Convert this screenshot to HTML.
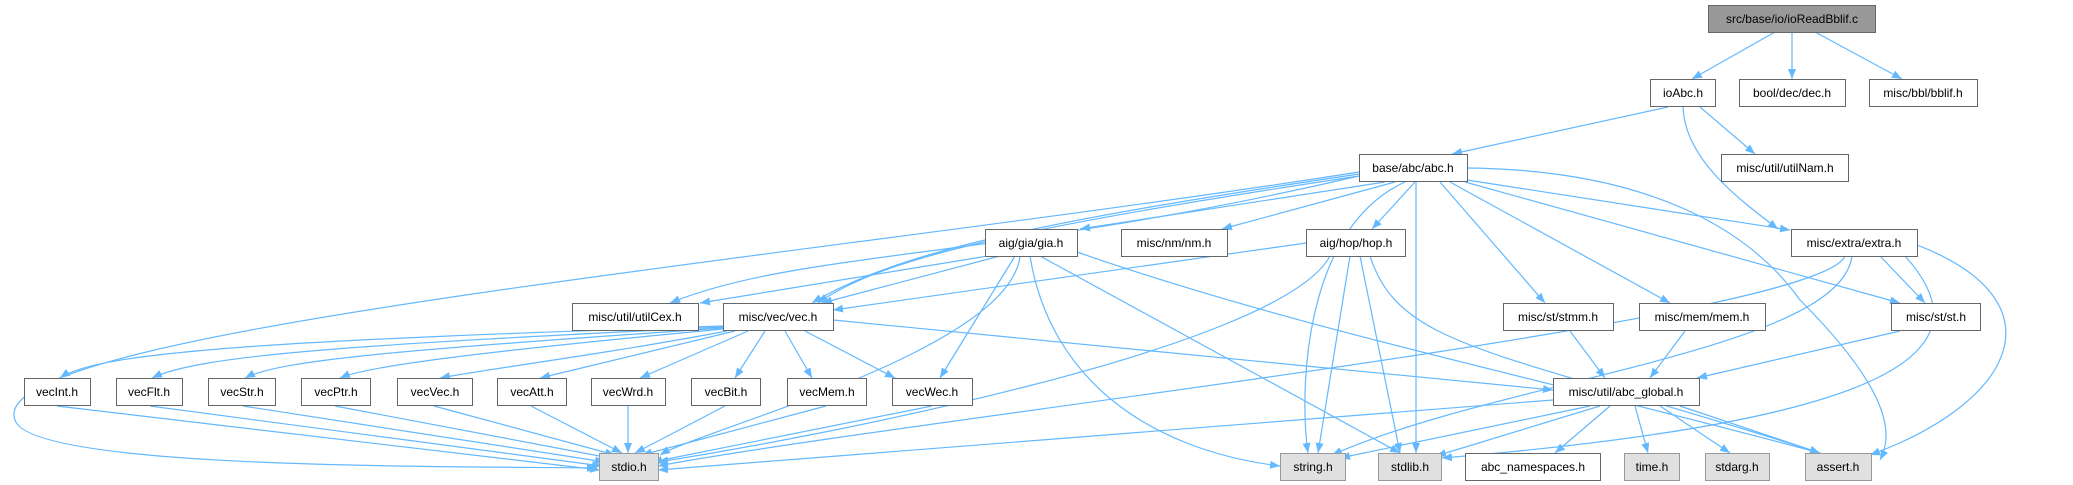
<!DOCTYPE html>
<html><head><meta charset="utf-8"><style>
html,body{margin:0;padding:0;background:#fff;}
svg{display:block;}
text{font-family:"Liberation Sans",Arial,sans-serif;font-size:12px;fill:#000;}
.n{fill:#fff;stroke:#666;stroke-width:1;}
.g{fill:#e0e0e0;stroke:#999;stroke-width:1;}
.r{fill:#999;stroke:#666;stroke-width:1;}
.e{fill:none;stroke:#63b8ff;stroke-width:1.2;marker-end:url(#a);}
</style></head><body>
<svg width="2073" height="485" viewBox="0 0 2073 485" xmlns="http://www.w3.org/2000/svg">
<defs><marker id="a" markerWidth="10" markerHeight="8" refX="10" refY="4" orient="auto" markerUnits="userSpaceOnUse"><path d="M0,0 L10,4 L0,8 z" fill="#63b8ff"/></marker></defs>
<g>
<path class="e" d="M1775,32 L1692,79"/>
<path class="e" d="M1792,32 L1792,79"/>
<path class="e" d="M1815,32 L1902,79"/>
<path class="e" d="M1668,107 L1452,154"/>
<path class="e" d="M1700,107 L1755,154"/>
<path class="e" d="M1683,107 C1685,160 1740,200 1778,229"/>
<path class="e" d="M1385,182 L1080,229"/>
<path class="e" d="M1395,182 L1222,229"/>
<path class="e" d="M1415,182 L1372,229"/>
<path class="e" d="M1405,182 C1300,230 1300,400 1308,453"/>
<path class="e" d="M1416,182 L1416,453"/>
<path class="e" d="M1440,182 L1545,303"/>
<path class="e" d="M1450,182 L1670,303"/>
<path class="e" d="M1465,182 L1900,303"/>
<path class="e" d="M1467,180 L1790,230"/>
<path class="e" d="M1467,168 C1650,170 1750,230 1800,300 C1900,400 1890,440 1880,460"/>
<path class="e" d="M1359,176 C1000,260 800,250 670,303"/>
<path class="e" d="M1359,176 C1000,230 880,260 818,303"/>
<path class="e" d="M1359,174 C1050,220 900,250 812,303"/>
<path class="e" d="M1359,172 C800,260 -20,330 15,420 C30,470 450,466 597,468"/>
<path class="e" d="M988,256 L700,303"/>
<path class="e" d="M1000,256 L822,303"/>
<path class="e" d="M1015,256 L940,378"/>
<path class="e" d="M1020,256 C1010,350 700,430 660,455"/>
<path class="e" d="M1030,256 C1050,380 1150,450 1280,466"/>
<path class="e" d="M1040,256 L1400,453"/>
<path class="e" d="M1077,252 C1300,330 1550,380 1820,453"/>
<path class="e" d="M1306,243 L833,310"/>
<path class="e" d="M1330,256 C1280,350 800,440 658,462"/>
<path class="e" d="M1350,256 L1318,453"/>
<path class="e" d="M1360,256 L1400,453"/>
<path class="e" d="M1370,256 C1400,350 1500,350 1820,453"/>
<path class="e" d="M1880,256 L1925,303"/>
<path class="e" d="M1845,256 C1820,320 900,420 658,466"/>
<path class="e" d="M1852,256 C1840,350 1500,380 1332,455"/>
<path class="e" d="M1905,256 C1990,350 1900,420 1442,458"/>
<path class="e" d="M1917,245 C2060,300 2020,400 1870,455"/>
<path class="e" d="M723,326 C300,340 100,350 60,378"/>
<path class="e" d="M723,327 C350,345 200,355 152,378"/>
<path class="e" d="M723,328 C400,350 280,360 245,378"/>
<path class="e" d="M723,329 C500,350 370,365 340,378"/>
<path class="e" d="M727,331 C600,355 480,370 440,378"/>
<path class="e" d="M735,331 L540,378"/>
<path class="e" d="M748,331 L640,378"/>
<path class="e" d="M765,331 L735,378"/>
<path class="e" d="M785,331 L812,378"/>
<path class="e" d="M805,331 L895,378"/>
<path class="e" d="M833,320 L1553,390"/>
<path class="e" d="M1570,331 L1605,378"/>
<path class="e" d="M1685,331 L1650,378"/>
<path class="e" d="M1900,331 L1697,378"/>
<path class="e" d="M57,406 L600,470"/>
<path class="e" d="M150,406 L602,466"/>
<path class="e" d="M243,406 L605,462"/>
<path class="e" d="M335,406 L610,458"/>
<path class="e" d="M434,406 L615,455"/>
<path class="e" d="M531,406 L622,453"/>
<path class="e" d="M628,406 L628,453"/>
<path class="e" d="M725,406 L635,453"/>
<path class="e" d="M826,406 L642,455"/>
<path class="e" d="M932,406 L652,462"/>
<path class="e" d="M1553,400 L658,470"/>
<path class="e" d="M1590,406 L1340,458"/>
<path class="e" d="M1600,406 L1436,456"/>
<path class="e" d="M1610,406 L1555,453"/>
<path class="e" d="M1635,406 L1648,453"/>
<path class="e" d="M1660,406 L1730,453"/>
<path class="e" d="M1680,406 L1820,453"/>
</g>
<g>
<rect class="r" x="1708.5" y="5.5" width="167" height="27"/><text x="1792" y="23" text-anchor="middle">src/base/io/ioReadBblif.c</text>
<rect class="n" x="1650.5" y="79.5" width="65" height="27"/><text x="1683" y="97" text-anchor="middle">ioAbc.h</text>
<rect class="n" x="1739.5" y="79.5" width="106" height="27"/><text x="1792" y="97" text-anchor="middle">bool/dec/dec.h</text>
<rect class="n" x="1869.5" y="79.5" width="108" height="27"/><text x="1923" y="97" text-anchor="middle">misc/bbl/bblif.h</text>
<rect class="n" x="1359.5" y="154.5" width="108" height="27"/><text x="1413" y="172" text-anchor="middle">base/abc/abc.h</text>
<rect class="n" x="1721.5" y="154.5" width="127" height="27"/><text x="1785" y="172" text-anchor="middle">misc/util/utilNam.h</text>
<rect class="n" x="985.5" y="229.5" width="92" height="27"/><text x="1031" y="247" text-anchor="middle">aig/gia/gia.h</text>
<rect class="n" x="1121.5" y="229.5" width="106" height="27"/><text x="1174" y="247" text-anchor="middle">misc/nm/nm.h</text>
<rect class="n" x="1306.5" y="229.5" width="99" height="27"/><text x="1356" y="247" text-anchor="middle">aig/hop/hop.h</text>
<rect class="n" x="1791.5" y="229.5" width="126" height="27"/><text x="1854" y="247" text-anchor="middle">misc/extra/extra.h</text>
<rect class="n" x="572.5" y="303.5" width="126" height="27"/><text x="635" y="321" text-anchor="middle">misc/util/utilCex.h</text>
<rect class="n" x="723.5" y="303.5" width="110" height="27"/><text x="778" y="321" text-anchor="middle">misc/vec/vec.h</text>
<rect class="n" x="1503.5" y="303.5" width="110" height="27"/><text x="1558" y="321" text-anchor="middle">misc/st/stmm.h</text>
<rect class="n" x="1639.5" y="303.5" width="126" height="27"/><text x="1702" y="321" text-anchor="middle">misc/mem/mem.h</text>
<rect class="n" x="1891.5" y="303.5" width="89" height="27"/><text x="1936" y="321" text-anchor="middle">misc/st/st.h</text>
<rect class="n" x="24.5" y="378.5" width="66" height="27"/><text x="57" y="396" text-anchor="middle">vecInt.h</text>
<rect class="n" x="116.5" y="378.5" width="66" height="27"/><text x="149" y="396" text-anchor="middle">vecFlt.h</text>
<rect class="n" x="208.5" y="378.5" width="67" height="27"/><text x="242" y="396" text-anchor="middle">vecStr.h</text>
<rect class="n" x="301.5" y="378.5" width="69" height="27"/><text x="336" y="396" text-anchor="middle">vecPtr.h</text>
<rect class="n" x="397.5" y="378.5" width="75" height="27"/><text x="435" y="396" text-anchor="middle">vecVec.h</text>
<rect class="n" x="497.5" y="378.5" width="69" height="27"/><text x="532" y="396" text-anchor="middle">vecAtt.h</text>
<rect class="n" x="591.5" y="378.5" width="74" height="27"/><text x="628" y="396" text-anchor="middle">vecWrd.h</text>
<rect class="n" x="691.5" y="378.5" width="69" height="27"/><text x="726" y="396" text-anchor="middle">vecBit.h</text>
<rect class="n" x="787.5" y="378.5" width="79" height="27"/><text x="827" y="396" text-anchor="middle">vecMem.h</text>
<rect class="n" x="892.5" y="378.5" width="80" height="27"/><text x="932" y="396" text-anchor="middle">vecWec.h</text>
<rect class="n" x="1553.5" y="378.5" width="146" height="27"/><text x="1626" y="396" text-anchor="middle">misc/util/abc_global.h</text>
<rect class="g" x="599.5" y="453.5" width="59" height="27"/><text x="629" y="471" text-anchor="middle">stdio.h</text>
<rect class="g" x="1280.5" y="453.5" width="65" height="27"/><text x="1313" y="471" text-anchor="middle">string.h</text>
<rect class="g" x="1378.5" y="453.5" width="63" height="27"/><text x="1410" y="471" text-anchor="middle">stdlib.h</text>
<rect class="n" x="1465.5" y="453.5" width="135" height="27"/><text x="1533" y="471" text-anchor="middle">abc_namespaces.h</text>
<rect class="g" x="1624.5" y="453.5" width="55" height="27"/><text x="1652" y="471" text-anchor="middle">time.h</text>
<rect class="g" x="1705.5" y="453.5" width="64" height="27"/><text x="1737" y="471" text-anchor="middle">stdarg.h</text>
<rect class="g" x="1805.5" y="453.5" width="66" height="27"/><text x="1838" y="471" text-anchor="middle">assert.h</text>
</g>
</svg>
</body></html>
